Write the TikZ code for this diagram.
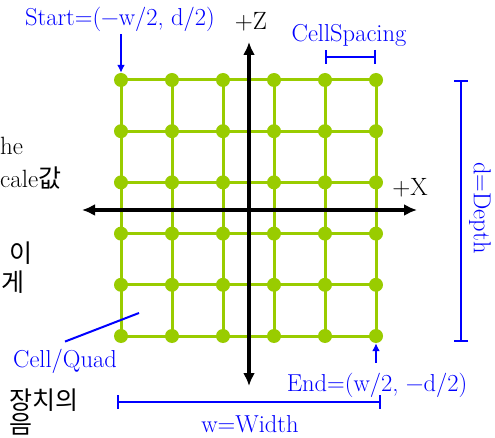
\documentclass[tikz,border=0pt]{standalone}
\usepackage{fontspec}
\newfontfamily\krfont{Noto Sans CJK KR}
\usetikzlibrary{arrows.meta,positioning,backgrounds}
\definecolor{gridgreen}{RGB}{153,204,0}
\tikzset{
  griddot/.style={circle,fill=gridgreen,inner sep=0pt,minimum size=14pt},
  gridline/.style={gridgreen,line width=3pt},
  axis/.style={line width=3.5pt,{Latex[length=13pt,width=12pt]}-{Latex[length=13pt,width=12pt]}},
  note/.style={blue,font=\fontsize{24.5}{28}\selectfont,inner sep=0pt},
  body/.style={font=\fontsize{25}{29}\selectfont,inner sep=0pt},
  pointer/.style={blue,line width=2pt,-{Latex[length=8pt,width=8pt]}},
  dimline/.style={blue,line width=2pt,{Bar[width=14pt]}-{Bar[width=14pt]}},
}
\begin{document}
\begin{tikzpicture}[x=1pt,y=-1pt]
\useasboundingbox (0,0) rectangle (495,438);

\foreach \i in {1,...,6}
  \foreach \j in {1,...,6}
    \node[griddot] (d\i\j) at ({121+51*(\i-1)},{80+51.2*(\j-1)}) {};

\begin{scope}[on background layer]
\foreach \k in {1,...,6} {
  \draw[gridline] (d1\k.center) -- (d6\k.center);
  \draw[gridline] (d\k1.center) -- (d\k6.center);
}
\end{scope}

\coordinate (ztop) at (249,42);
\coordinate (zbot) at (249,386);
\coordinate (xleft) at (82,210);
\coordinate (xright) at (417,210);
\draw[axis] (zbot) -- (ztop);
\draw[axis] (xleft) -- (xright);
\node[body] (zlab) at (251,22) {+Z};
\node[body] (xlab) at (410,188) {+X};

\node[note] (start) at (120,19) {Start=(−w/2, d/2)};
\draw[pointer] ([yshift=-3pt]start.south -| d11) -- (d11.north);

\node[note] (spacing) at (349,35) {CellSpacing};
\draw[dimline] ([yshift=23pt]d51.center) -- ([yshift=23pt]d61.center);

\coordinate (dtop) at (461,80);
\coordinate (dbot) at (461,342);
\draw[dimline] (dtop) -- (dbot);
\node[note,rotate=-90] (depth) at (480,208) {d=Depth};

\coordinate (wleft) at (117,402);
\coordinate (wright) at (381,402);
\draw[dimline] (wleft) -- (wright);
\node[note] (width) at (250,424) {w=Width};

\node[note] (end) at (377,385) {End=(w/2, −d/2)};
\draw[pointer] ([yshift=10pt]end.north -| d66) -- (d66.south);

\node[note] (cellq) at (65,361) {Cell/Quad};
\coordinate (cellpt) at (139,313);
\draw[blue,line width=2pt] ([yshift=7pt]cellq.north) -- (cellpt);

\node[body,anchor=base west] (kr1) at (0,155) {he};
\node[body,anchor=base west] (kr2) at (0,188) {cale{\krfont 값}};
\node[body,anchor=base west] (kr3) at (9,262) {\krfont 이};
\node[body,anchor=base east] (kr4) at (25,291) {\krfont 게};
\node[body,anchor=base west] (kr5) at (9,409) {\krfont 장치의};
\node[body,anchor=base west] (kr6) at (9,433) {\krfont 음};
\end{tikzpicture}
\end{document}
